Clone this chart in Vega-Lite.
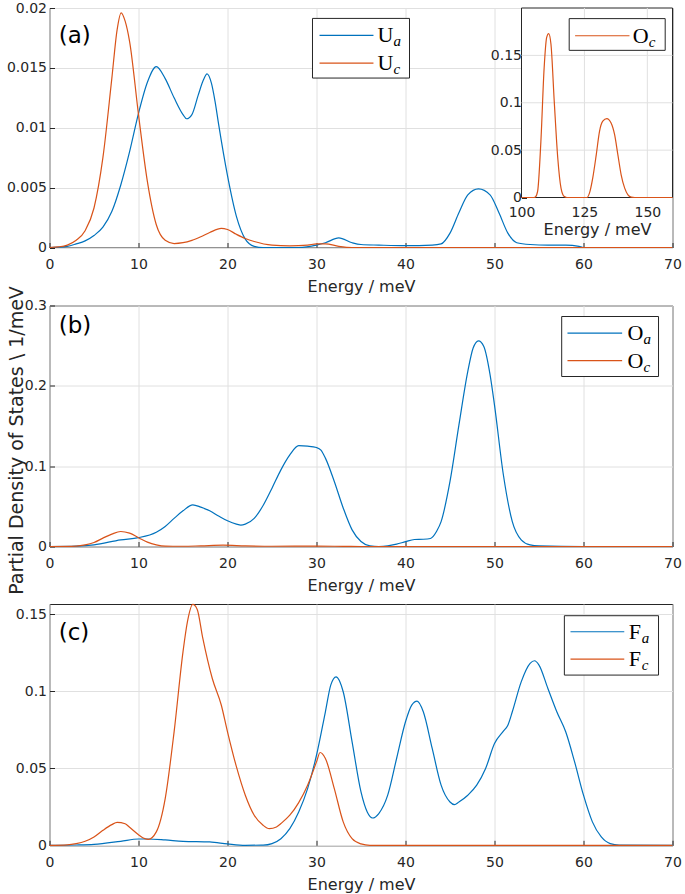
{
  "$schema": "https://vega.github.io/schema/vega-lite/v6.json",
  "padding": {"left": 5.5, "top": 0, "right": 2, "bottom": 0},
  "bounds": "flush",
  "spacing": 57.5,
  "config": {
    "font": "DejaVu Sans",
    "view": {"stroke": "#262626", "strokeWidth": 1},
    "axis": {"labelFont": "DejaVu Sans", "labelFontSize": 14, "labelColor": "#262626", "titleFont": "DejaVu Sans", "titleFontSize": 16, "titleFontWeight": "normal", "titleColor": "#262626", "gridColor": "#e0e0e0", "gridOpacity": 1, "domain": false, "tickColor": "#262626", "tickSize": -5, "labelFlush": false},
    "axisX": {"labelPadding": 15, "titlePadding": 7},
    "axisY": {"labelPadding": 8, "titlePadding": 8}
  },
  "vconcat": [
    {
      "width": 623, "height": 239.5,
      "layer": [
        {
          "layer": [
            {
              "data": {"values": [
                {"E":0,"v":0,"s":"Ua"},{"E":2,"v":0.0001,"s":"Ua"},{"E":3,"v":0.0003,"s":"Ua"},{"E":4,"v":0.00055,"s":"Ua"},{"E":5,"v":0.001,"s":"Ua"},{"E":6,"v":0.0017,"s":"Ua"},{"E":7,"v":0.003,"s":"Ua"},{"E":8,"v":0.0052,"s":"Ua"},{"E":9,"v":0.008,"s":"Ua"},{"E":10,"v":0.0112,"s":"Ua"},{"E":11,"v":0.0138,"s":"Ua"},{"E":12,"v":0.0151,"s":"Ua"},{"E":13,"v":0.0141,"s":"Ua"},{"E":14,"v":0.0125,"s":"Ua"},{"E":15,"v":0.0111,"s":"Ua"},{"E":15.4,"v":0.01075,"s":"Ua"},{"E":16,"v":0.0111,"s":"Ua"},{"E":16.7,"v":0.0127,"s":"Ua"},{"E":17.3,"v":0.014,"s":"Ua"},{"E":17.7,"v":0.0145,"s":"Ua"},{"E":18.2,"v":0.0137,"s":"Ua"},{"E":18.6,"v":0.0122,"s":"Ua"},{"E":19,"v":0.0103,"s":"Ua"},{"E":20,"v":0.006,"s":"Ua"},{"E":21,"v":0.0026,"s":"Ua"},{"E":22,"v":0.0007,"s":"Ua"},{"E":23,"v":0.0001,"s":"Ua"},{"E":24,"v":0,"s":"Ua"},{"E":28,"v":0,"s":"Ua"},{"E":30,"v":0.0002,"s":"Ua"},{"E":31,"v":0.0004,"s":"Ua"},{"E":32.5,"v":0.0008,"s":"Ua"},{"E":34,"v":0.0004,"s":"Ua"},{"E":35,"v":0.00025,"s":"Ua"},{"E":37,"v":0.0002,"s":"Ua"},{"E":40,"v":0.00015,"s":"Ua"},{"E":43,"v":0.0002,"s":"Ua"},{"E":44,"v":0.0003,"s":"Ua"},{"E":45,"v":0.0012,"s":"Ua"},{"E":46,"v":0.0029,"s":"Ua"},{"E":47,"v":0.0044,"s":"Ua"},{"E":48.2,"v":0.0049,"s":"Ua"},{"E":49.5,"v":0.0044,"s":"Ua"},{"E":50.5,"v":0.0029,"s":"Ua"},{"E":51.5,"v":0.0012,"s":"Ua"},{"E":52.5,"v":0.0004,"s":"Ua"},{"E":54,"v":0.00025,"s":"Ua"},{"E":56,"v":0.0002,"s":"Ua"},{"E":58,"v":0.0002,"s":"Ua"},{"E":59.5,"v":0.0001,"s":"Ua"},{"E":60,"v":0,"s":"Ua"},{"E":70,"v":0,"s":"Ua"},
                {"E":0,"v":0,"s":"Uc"},{"E":1,"v":0.00005,"s":"Uc"},{"E":2,"v":0.0002,"s":"Uc"},{"E":3,"v":0.0006,"s":"Uc"},{"E":4,"v":0.0014,"s":"Uc"},{"E":5,"v":0.0033,"s":"Uc"},{"E":6,"v":0.0075,"s":"Uc"},{"E":7,"v":0.0141,"s":"Uc"},{"E":7.6,"v":0.0182,"s":"Uc"},{"E":8.05,"v":0.0196,"s":"Uc"},{"E":8.5,"v":0.0189,"s":"Uc"},{"E":9,"v":0.0172,"s":"Uc"},{"E":10,"v":0.0111,"s":"Uc"},{"E":11,"v":0.0055,"s":"Uc"},{"E":12,"v":0.0019,"s":"Uc"},{"E":13,"v":0.0006,"s":"Uc"},{"E":14,"v":0.00033,"s":"Uc"},{"E":15,"v":0.0004,"s":"Uc"},{"E":16,"v":0.0006,"s":"Uc"},{"E":17,"v":0.0009,"s":"Uc"},{"E":18,"v":0.00125,"s":"Uc"},{"E":19.3,"v":0.0016,"s":"Uc"},{"E":20,"v":0.0015,"s":"Uc"},{"E":21,"v":0.0011,"s":"Uc"},{"E":22,"v":0.00075,"s":"Uc"},{"E":23,"v":0.0005,"s":"Uc"},{"E":25,"v":0.0002,"s":"Uc"},{"E":27,"v":0.00014,"s":"Uc"},{"E":29,"v":0.0002,"s":"Uc"},{"E":30,"v":0.0003,"s":"Uc"},{"E":31,"v":0.0003,"s":"Uc"},{"E":32.5,"v":0.0001,"s":"Uc"},{"E":34,"v":0,"s":"Uc"},{"E":70,"v":0,"s":"Uc"}
              ]},
              "mark": {"type": "line", "interpolate": "monotone", "strokeWidth": 1.2},
              "encoding": {
                "x": {"field": "E", "type": "quantitative", "scale": {"domain": [0, 70], "nice": false}, "axis": {"values": [0,10,20,30,40,50,60,70], "title": "Energy / meV", "format": "~g"}},
                "y": {"field": "v", "type": "quantitative", "scale": {"domain": [0, 0.02], "nice": false}, "axis": {"values": [0,0.005,0.01,0.015,0.02], "title": null, "format": "~g"}},
                "color": {"field": "s", "type": "nominal", "scale": {"domain": ["Ua","Uc","Oa","Oc","Fa","Fc"], "range": ["#0072BD","#D95319","#0072BD","#D95319","#0072BD","#D95319"]}, "legend": null}
              }
            },
            {"data": {"values": [{"p": "(a)"}]}, "mark": {"type": "text", "align": "left", "baseline": "middle", "fontSize": 23, "font": "DejaVu Sans", "color": "#000000"}, "encoding": {"x": {"datum": 1.04}, "y": {"datum": 0.01768}, "text": {"field": "p"}}},
            {"data": {"values": [{"b": 1}]}, "mark": {"type": "rect", "fill": "#ffffff", "stroke": "#262626", "strokeWidth": 1}, "encoding": {"x": {"datum": 29.55}, "x2": {"datum": 40.45}, "y": {"datum": 0.01913}, "y2": {"datum": 0.01415}}},
            {"data": {"values": [{"m": "U", "sub": "a"}]}, "layer": [
              {"mark": {"type": "rule", "color": "#0072BD", "strokeWidth": 1.2}, "encoding": {"x": {"datum": 30.34}, "x2": {"datum": 36.4}, "y": {"datum": 0.01772}}},
              {"mark": {"type": "text", "align": "left", "baseline": "middle", "font": "Liberation Serif", "fontSize": 22, "color": "#000000"}, "encoding": {"x": {"datum": 36.85}, "y": {"datum": 0.01772}, "text": {"field": "m"}}},
              {"mark": {"type": "text", "align": "left", "baseline": "middle", "font": "Liberation Serif", "fontStyle": "italic", "fontSize": 15, "dx": 16, "dy": 6, "color": "#000000"}, "encoding": {"x": {"datum": 36.85}, "y": {"datum": 0.01772}, "text": {"field": "sub"}}}
            ]},
            {"data": {"values": [{"m": "U", "sub": "c"}]}, "layer": [
              {"mark": {"type": "rule", "color": "#D95319", "strokeWidth": 1.2}, "encoding": {"x": {"datum": 30.34}, "x2": {"datum": 36.4}, "y": {"datum": 0.01539}}},
              {"mark": {"type": "text", "align": "left", "baseline": "middle", "font": "Liberation Serif", "fontSize": 22, "color": "#000000"}, "encoding": {"x": {"datum": 36.85}, "y": {"datum": 0.01539}, "text": {"field": "m"}}},
              {"mark": {"type": "text", "align": "left", "baseline": "middle", "font": "Liberation Serif", "fontStyle": "italic", "fontSize": 15, "dx": 16, "dy": 6, "color": "#000000"}, "encoding": {"x": {"datum": 36.85}, "y": {"datum": 0.01539}, "text": {"field": "sub"}}}
            ]}
          ]
        },
        {
          "layer": [
            {"data": {"values": [{"b": 1}]}, "mark": {"type": "rect", "fill": "#ffffff", "stroke": "#262626", "strokeWidth": 1},
             "encoding": {
               "x": {"datum": 100, "scale": {"domain": [100, 160], "range": [472, 623], "nice": false}, "axis": {"orient": "bottom", "offset": -50, "values": [100,125,150], "title": "Energy / meV", "grid": false, "format": "~g", "labelPadding": 12.5, "titlePadding": 2}},
               "x2": {"datum": 160},
               "y": {"datum": 0, "scale": {"domain": [0, 0.2], "range": [189.5, 0], "nice": false}, "axis": {"orient": "left", "offset": -472, "values": [0,0.05,0.1,0.15], "title": null, "grid": false, "format": "~g", "labelPadding": 5}},
               "y2": {"datum": 0.2}
             }},
            {"data": {"values": [{"g": 125}, {"g": 150}]}, "mark": {"type": "rule", "color": "#e0e0e0"}, "encoding": {"x": {"field": "g", "type": "quantitative"}, "y": {"datum": 0}, "y2": {"datum": 0.2}}},
            {"data": {"values": [{"h": 0.05}, {"h": 0.1}, {"h": 0.15}]}, "mark": {"type": "rule", "color": "#e0e0e0"}, "encoding": {"y": {"field": "h", "type": "quantitative"}, "x": {"datum": 100}, "x2": {"datum": 160}}},
            {
              "data": {"values": [
                {"E":100,"v":0,"s":"Oc"},{"E":105,"v":0,"s":"Oc"},{"E":105.5,"v":0.0005,"s":"Oc"},{"E":106.4,"v":0.0064,"s":"Oc"},{"E":107.7,"v":0.059,"s":"Oc"},{"E":109,"v":0.137,"s":"Oc"},{"E":110,"v":0.169,"s":"Oc"},{"E":110.8,"v":0.173,"s":"Oc"},{"E":111.7,"v":0.162,"s":"Oc"},{"E":113,"v":0.102,"s":"Oc"},{"E":114.4,"v":0.042,"s":"Oc"},{"E":115.7,"v":0.01,"s":"Oc"},{"E":117,"v":0.001,"s":"Oc"},{"E":118,"v":0,"s":"Oc"},{"E":126,"v":0,"s":"Oc"},{"E":127,"v":0.0046,"s":"Oc"},{"E":128.3,"v":0.0205,"s":"Oc"},{"E":129.7,"v":0.045,"s":"Oc"},{"E":131,"v":0.0699,"s":"Oc"},{"E":132.3,"v":0.0805,"s":"Oc"},{"E":133.9,"v":0.0833,"s":"Oc"},{"E":135.6,"v":0.0787,"s":"Oc"},{"E":137,"v":0.0663,"s":"Oc"},{"E":138.3,"v":0.045,"s":"Oc"},{"E":139.6,"v":0.024,"s":"Oc"},{"E":141,"v":0.0099,"s":"Oc"},{"E":142.3,"v":0.0028,"s":"Oc"},{"E":143.6,"v":0.0004,"s":"Oc"},{"E":145,"v":0,"s":"Oc"},{"E":160,"v":0,"s":"Oc"}
              ]},
              "mark": {"type": "line", "interpolate": "monotone", "strokeWidth": 1.2},
              "encoding": {
                "x": {"field": "E", "type": "quantitative"},
                "y": {"field": "v", "type": "quantitative"},
                "color": {"field": "s", "type": "nominal", "scale": {"domain": ["Ua","Uc","Oa","Oc","Fa","Fc"], "range": ["#0072BD","#D95319","#0072BD","#D95319","#0072BD","#D95319"]}, "legend": null}
              }
            },
            {"data": {"values": [{"b": 1}]}, "mark": {"type": "rect", "fill": "#ffffff", "stroke": "#262626", "strokeWidth": 1}, "encoding": {"x": {"datum": 118.95}, "x2": {"datum": 157.1}, "y": {"datum": 0.1888}, "y2": {"datum": 0.1553}}},
            {"data": {"values": [{"m": "O", "sub": "c"}]}, "layer": [
              {"mark": {"type": "rule", "color": "#D95319", "strokeWidth": 1.2}, "encoding": {"x": {"datum": 121.3}, "x2": {"datum": 142.9}, "y": {"datum": 0.1707}}},
              {"mark": {"type": "text", "align": "left", "baseline": "middle", "font": "Liberation Serif", "fontSize": 22, "color": "#000000"}, "encoding": {"x": {"datum": 144.2}, "y": {"datum": 0.1707}, "text": {"field": "m"}}},
              {"mark": {"type": "text", "align": "left", "baseline": "middle", "font": "Liberation Serif", "fontStyle": "italic", "fontSize": 15, "dx": 16, "dy": 6, "color": "#000000"}, "encoding": {"x": {"datum": 144.2}, "y": {"datum": 0.1707}, "text": {"field": "sub"}}}
            ]}
          ]
        }
      ],
      "resolve": {"scale": {"x": "independent", "y": "independent"}}
    },
    {
      "width": 623, "height": 241,
      "layer": [
        {
          "data": {"values": [
            {"E":0,"v":0,"s":"Oa"},{"E":3,"v":0.0005,"s":"Oa"},{"E":5,"v":0.002,"s":"Oa"},{"E":8,"v":0.0083,"s":"Oa"},{"E":10,"v":0.011,"s":"Oa"},{"E":12,"v":0.0178,"s":"Oa"},{"E":13,"v":0.025,"s":"Oa"},{"E":14,"v":0.035,"s":"Oa"},{"E":15,"v":0.0444,"s":"Oa"},{"E":16.1,"v":0.0519,"s":"Oa"},{"E":17,"v":0.049,"s":"Oa"},{"E":18,"v":0.0444,"s":"Oa"},{"E":19,"v":0.038,"s":"Oa"},{"E":20,"v":0.032,"s":"Oa"},{"E":21,"v":0.0278,"s":"Oa"},{"E":21.5,"v":0.0266,"s":"Oa"},{"E":22,"v":0.0278,"s":"Oa"},{"E":23,"v":0.035,"s":"Oa"},{"E":24,"v":0.051,"s":"Oa"},{"E":25,"v":0.0726,"s":"Oa"},{"E":26,"v":0.0954,"s":"Oa"},{"E":27,"v":0.114,"s":"Oa"},{"E":28,"v":0.1255,"s":"Oa"},{"E":29,"v":0.1249,"s":"Oa"},{"E":30,"v":0.1232,"s":"Oa"},{"E":30.5,"v":0.12,"s":"Oa"},{"E":31,"v":0.11,"s":"Oa"},{"E":32,"v":0.081,"s":"Oa"},{"E":33,"v":0.048,"s":"Oa"},{"E":34,"v":0.0207,"s":"Oa"},{"E":35,"v":0.0062,"s":"Oa"},{"E":36,"v":0.0008,"s":"Oa"},{"E":37,"v":0,"s":"Oa"},{"E":38,"v":0.0008,"s":"Oa"},{"E":39,"v":0.003,"s":"Oa"},{"E":40,"v":0.006,"s":"Oa"},{"E":41,"v":0.0087,"s":"Oa"},{"E":42,"v":0.009,"s":"Oa"},{"E":42.8,"v":0.01,"s":"Oa"},{"E":43.5,"v":0.019,"s":"Oa"},{"E":44,"v":0.031,"s":"Oa"},{"E":45,"v":0.081,"s":"Oa"},{"E":46,"v":0.151,"s":"Oa"},{"E":47,"v":0.218,"s":"Oa"},{"E":47.6,"v":0.247,"s":"Oa"},{"E":48.2,"v":0.256,"s":"Oa"},{"E":48.8,"v":0.249,"s":"Oa"},{"E":49.5,"v":0.214,"s":"Oa"},{"E":50,"v":0.176,"s":"Oa"},{"E":51,"v":0.089,"s":"Oa"},{"E":52,"v":0.031,"s":"Oa"},{"E":53,"v":0.0083,"s":"Oa"},{"E":54,"v":0.002,"s":"Oa"},{"E":55,"v":0.0008,"s":"Oa"},{"E":60,"v":0,"s":"Oa"},{"E":70,"v":0,"s":"Oa"},
            {"E":0,"v":0,"s":"Oc"},{"E":3,"v":0.0005,"s":"Oc"},{"E":4,"v":0.002,"s":"Oc"},{"E":5,"v":0.005,"s":"Oc"},{"E":6,"v":0.0104,"s":"Oc"},{"E":7,"v":0.0154,"s":"Oc"},{"E":8,"v":0.0187,"s":"Oc"},{"E":9,"v":0.0166,"s":"Oc"},{"E":10,"v":0.011,"s":"Oc"},{"E":11,"v":0.0054,"s":"Oc"},{"E":12,"v":0.002,"s":"Oc"},{"E":13,"v":0.0004,"s":"Oc"},{"E":15,"v":0.0003,"s":"Oc"},{"E":17,"v":0.0008,"s":"Oc"},{"E":19.5,"v":0.0016,"s":"Oc"},{"E":22,"v":0.0008,"s":"Oc"},{"E":25,"v":0.0003,"s":"Oc"},{"E":30,"v":0.0005,"s":"Oc"},{"E":33,"v":0.0002,"s":"Oc"},{"E":35,"v":0,"s":"Oc"},{"E":70,"v":0,"s":"Oc"}
          ]},
          "mark": {"type": "line", "interpolate": "monotone", "strokeWidth": 1.2},
          "encoding": {
            "x": {"field": "E", "type": "quantitative", "scale": {"domain": [0, 70], "nice": false}, "axis": {"values": [0,10,20,30,40,50,60,70], "title": "Energy / meV", "format": "~g"}},
            "y": {"field": "v", "type": "quantitative", "scale": {"domain": [0, 0.3], "nice": false}, "axis": {"values": [0,0.1,0.2,0.3], "title": "Partial Density of States \\ 1/meV", "format": "~g", "titleFontSize": 19, "titleX": -33, "titleY": 134.5, "titleBaseline": "middle", "titleAlign": "center", "titleAngle": 270}},
            "color": {"field": "s", "type": "nominal", "scale": {"domain": ["Ua","Uc","Oa","Oc","Fa","Fc"], "range": ["#0072BD","#D95319","#0072BD","#D95319","#0072BD","#D95319"]}, "legend": null}
          }
        },
        {"data": {"values": [{"p": "(b)"}]}, "mark": {"type": "text", "align": "left", "baseline": "middle", "fontSize": 23, "font": "DejaVu Sans", "color": "#000000"}, "encoding": {"x": {"datum": 1.04}, "y": {"datum": 0.2739}, "text": {"field": "p"}}},
        {"data": {"values": [{"b": 1}]}, "mark": {"type": "rect", "fill": "#ffffff", "stroke": "#262626", "strokeWidth": 1}, "encoding": {"x": {"datum": 57.55}, "x2": {"datum": 68.43}, "y": {"datum": 0.2863}, "y2": {"datum": 0.2116}}},
        {"data": {"values": [{"m": "O", "sub": "a"}]}, "layer": [
          {"mark": {"type": "rule", "color": "#0072BD", "strokeWidth": 1.2}, "encoding": {"x": {"datum": 58.2}, "x2": {"datum": 64.34}, "y": {"datum": 0.2655}}},
          {"mark": {"type": "text", "align": "left", "baseline": "middle", "font": "Liberation Serif", "fontSize": 22, "color": "#000000"}, "encoding": {"x": {"datum": 64.94}, "y": {"datum": 0.2655}, "text": {"field": "m"}}},
          {"mark": {"type": "text", "align": "left", "baseline": "middle", "font": "Liberation Serif", "fontStyle": "italic", "fontSize": 15, "dx": 16, "dy": 6, "color": "#000000"}, "encoding": {"x": {"datum": 64.94}, "y": {"datum": 0.2655}, "text": {"field": "sub"}}}
        ]},
        {"data": {"values": [{"m": "O", "sub": "c"}]}, "layer": [
          {"mark": {"type": "rule", "color": "#D95319", "strokeWidth": 1.2}, "encoding": {"x": {"datum": 58.2}, "x2": {"datum": 64.34}, "y": {"datum": 0.2315}}},
          {"mark": {"type": "text", "align": "left", "baseline": "middle", "font": "Liberation Serif", "fontSize": 22, "color": "#000000"}, "encoding": {"x": {"datum": 64.94}, "y": {"datum": 0.2315}, "text": {"field": "m"}}},
          {"mark": {"type": "text", "align": "left", "baseline": "middle", "font": "Liberation Serif", "fontStyle": "italic", "fontSize": 15, "dx": 16, "dy": 6, "color": "#000000"}, "encoding": {"x": {"datum": 64.94}, "y": {"datum": 0.2315}, "text": {"field": "sub"}}}
        ]}
      ]
    },
    {
      "width": 623, "height": 241.3,
      "layer": [
        {
          "data": {"values": [
            {"E":0,"v":0,"s":"Fa"},{"E":3,"v":0.0002,"s":"Fa"},{"E":5,"v":0.0006,"s":"Fa"},{"E":8,"v":0.0026,"s":"Fa"},{"E":10,"v":0.0041,"s":"Fa"},{"E":11,"v":0.0041,"s":"Fa"},{"E":13,"v":0.0035,"s":"Fa"},{"E":15,"v":0.0026,"s":"Fa"},{"E":18,"v":0.0022,"s":"Fa"},{"E":20,"v":0.0009,"s":"Fa"},{"E":22,"v":0,"s":"Fa"},{"E":24,"v":0.0001,"s":"Fa"},{"E":25,"v":0.0011,"s":"Fa"},{"E":26,"v":0.0043,"s":"Fa"},{"E":27,"v":0.0108,"s":"Fa"},{"E":28,"v":0.0216,"s":"Fa"},{"E":29,"v":0.0368,"s":"Fa"},{"E":30,"v":0.0584,"s":"Fa"},{"E":31,"v":0.0866,"s":"Fa"},{"E":31.6,"v":0.1039,"s":"Fa"},{"E":32.2,"v":0.1093,"s":"Fa"},{"E":33,"v":0.0996,"s":"Fa"},{"E":34,"v":0.0671,"s":"Fa"},{"E":35,"v":0.0346,"s":"Fa"},{"E":35.7,"v":0.0216,"s":"Fa"},{"E":36.3,"v":0.0177,"s":"Fa"},{"E":37,"v":0.0206,"s":"Fa"},{"E":38,"v":0.0325,"s":"Fa"},{"E":39,"v":0.0563,"s":"Fa"},{"E":40,"v":0.0801,"s":"Fa"},{"E":40.7,"v":0.0909,"s":"Fa"},{"E":41.3,"v":0.0935,"s":"Fa"},{"E":42,"v":0.0866,"s":"Fa"},{"E":43,"v":0.0628,"s":"Fa"},{"E":44,"v":0.039,"s":"Fa"},{"E":45,"v":0.0281,"s":"Fa"},{"E":45.5,"v":0.0264,"s":"Fa"},{"E":46,"v":0.0281,"s":"Fa"},{"E":47,"v":0.0325,"s":"Fa"},{"E":48,"v":0.039,"s":"Fa"},{"E":49,"v":0.0498,"s":"Fa"},{"E":50,"v":0.066,"s":"Fa"},{"E":51,"v":0.074,"s":"Fa"},{"E":51.5,"v":0.0779,"s":"Fa"},{"E":52,"v":0.0866,"s":"Fa"},{"E":53,"v":0.106,"s":"Fa"},{"E":54,"v":0.118,"s":"Fa"},{"E":54.5,"v":0.1197,"s":"Fa"},{"E":55,"v":0.1169,"s":"Fa"},{"E":56,"v":0.1017,"s":"Fa"},{"E":57,"v":0.0866,"s":"Fa"},{"E":58,"v":0.0736,"s":"Fa"},{"E":59,"v":0.0541,"s":"Fa"},{"E":60,"v":0.0325,"s":"Fa"},{"E":61,"v":0.0152,"s":"Fa"},{"E":62,"v":0.0054,"s":"Fa"},{"E":63,"v":0.0011,"s":"Fa"},{"E":64,"v":0.0002,"s":"Fa"},{"E":70,"v":0,"s":"Fa"},
            {"E":0,"v":0,"s":"Fc"},{"E":2,"v":0.0003,"s":"Fc"},{"E":3,"v":0.0011,"s":"Fc"},{"E":4,"v":0.0026,"s":"Fc"},{"E":5,"v":0.0054,"s":"Fc"},{"E":6,"v":0.0097,"s":"Fc"},{"E":7,"v":0.0134,"s":"Fc"},{"E":7.6,"v":0.0149,"s":"Fc"},{"E":8.5,"v":0.014,"s":"Fc"},{"E":9,"v":0.0117,"s":"Fc"},{"E":10,"v":0.0069,"s":"Fc"},{"E":10.7,"v":0.0043,"s":"Fc"},{"E":11.1,"v":0.0039,"s":"Fc"},{"E":12,"v":0.0087,"s":"Fc"},{"E":13,"v":0.0303,"s":"Fc"},{"E":14,"v":0.0736,"s":"Fc"},{"E":15,"v":0.1255,"s":"Fc"},{"E":15.5,"v":0.145,"s":"Fc"},{"E":16.1,"v":0.1562,"s":"Fc"},{"E":16.6,"v":0.153,"s":"Fc"},{"E":17.2,"v":0.135,"s":"Fc"},{"E":18.3,"v":0.108,"s":"Fc"},{"E":19.3,"v":0.091,"s":"Fc"},{"E":20,"v":0.0736,"s":"Fc"},{"E":21,"v":0.051,"s":"Fc"},{"E":22,"v":0.0325,"s":"Fc"},{"E":23,"v":0.0195,"s":"Fc"},{"E":24,"v":0.013,"s":"Fc"},{"E":24.7,"v":0.0108,"s":"Fc"},{"E":25.5,"v":0.0119,"s":"Fc"},{"E":26,"v":0.0141,"s":"Fc"},{"E":27,"v":0.0195,"s":"Fc"},{"E":28,"v":0.0277,"s":"Fc"},{"E":29,"v":0.039,"s":"Fc"},{"E":30,"v":0.0541,"s":"Fc"},{"E":30.4,"v":0.0602,"s":"Fc"},{"E":31,"v":0.0563,"s":"Fc"},{"E":32,"v":0.0368,"s":"Fc"},{"E":33,"v":0.0152,"s":"Fc"},{"E":34,"v":0.0043,"s":"Fc"},{"E":35,"v":0.0009,"s":"Fc"},{"E":36,"v":0,"s":"Fc"},{"E":70,"v":0,"s":"Fc"}
          ]},
          "mark": {"type": "line", "interpolate": "monotone", "strokeWidth": 1.2},
          "encoding": {
            "x": {"field": "E", "type": "quantitative", "scale": {"domain": [0, 70], "nice": false}, "axis": {"values": [0,10,20,30,40,50,60,70], "title": "Energy / meV", "format": "~g"}},
            "y": {"field": "v", "type": "quantitative", "scale": {"domain": [0, 0.1565], "nice": false}, "axis": {"values": [0,0.05,0.1,0.15], "title": null, "format": "~g"}},
            "color": {"field": "s", "type": "nominal", "scale": {"domain": ["Ua","Uc","Oa","Oc","Fa","Fc"], "range": ["#0072BD","#D95319","#0072BD","#D95319","#0072BD","#D95319"]}, "legend": null}
          }
        },
        {"data": {"values": [{"p": "(c)"}]}, "mark": {"type": "text", "align": "left", "baseline": "middle", "fontSize": 23, "font": "DejaVu Sans", "color": "#000000"}, "encoding": {"x": {"datum": 1.04}, "y": {"datum": 0.1376}, "text": {"field": "p"}}},
        {"data": {"values": [{"b": 1}]}, "mark": {"type": "rect", "fill": "#ffffff", "stroke": "#262626", "strokeWidth": 1}, "encoding": {"x": {"datum": 57.85}, "x2": {"datum": 68.43}, "y": {"datum": 0.1489}, "y2": {"datum": 0.1104}}},
        {"data": {"values": [{"m": "F", "sub": "a"}]}, "layer": [
          {"mark": {"type": "rule", "color": "#0072BD", "strokeWidth": 1.2}, "encoding": {"x": {"datum": 58.54}, "x2": {"datum": 64.58}, "y": {"datum": 0.1385}}},
          {"mark": {"type": "text", "align": "left", "baseline": "middle", "font": "Liberation Serif", "fontSize": 22, "color": "#000000"}, "encoding": {"x": {"datum": 65.08}, "y": {"datum": 0.1385}, "text": {"field": "m"}}},
          {"mark": {"type": "text", "align": "left", "baseline": "middle", "font": "Liberation Serif", "fontStyle": "italic", "fontSize": 15, "dx": 13, "dy": 6, "color": "#000000"}, "encoding": {"x": {"datum": 65.08}, "y": {"datum": 0.1385}, "text": {"field": "sub"}}}
        ]},
        {"data": {"values": [{"m": "F", "sub": "c"}]}, "layer": [
          {"mark": {"type": "rule", "color": "#D95319", "strokeWidth": 1.2}, "encoding": {"x": {"datum": 58.54}, "x2": {"datum": 64.58}, "y": {"datum": 0.1208}}},
          {"mark": {"type": "text", "align": "left", "baseline": "middle", "font": "Liberation Serif", "fontSize": 22, "color": "#000000"}, "encoding": {"x": {"datum": 65.08}, "y": {"datum": 0.1208}, "text": {"field": "m"}}},
          {"mark": {"type": "text", "align": "left", "baseline": "middle", "font": "Liberation Serif", "fontStyle": "italic", "fontSize": 15, "dx": 13, "dy": 6, "color": "#000000"}, "encoding": {"x": {"datum": 65.08}, "y": {"datum": 0.1208}, "text": {"field": "sub"}}}
        ]}
      ]
    }
  ]
}
